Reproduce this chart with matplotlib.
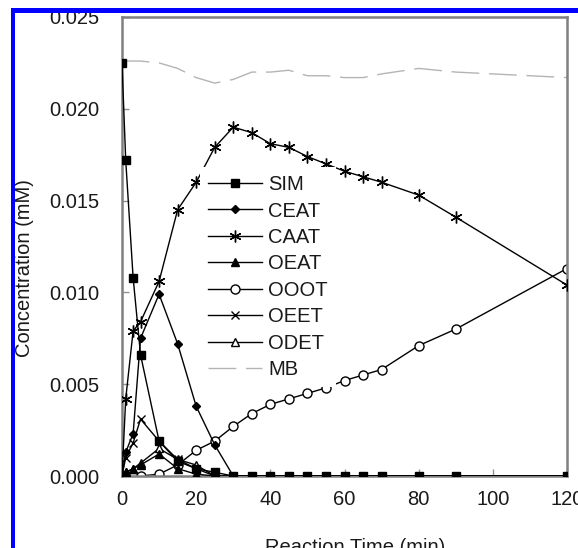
import matplotlib
matplotlib.use("Agg")
import matplotlib.pyplot as plt
from matplotlib.patches import Rectangle

plt.rcParams['font.family'] = ['Liberation Sans', 'DejaVu Sans']

time_min = [0, 1, 3, 5, 10, 15, 20, 25, 30, 35, 40, 45, 50, 55, 60, 65, 70, 80, 90, 120]

sim  = [0.0225, 0.0172, 0.0108, 0.0066, 0.0019, 0.0008, 0.0004, 0.0002, 0, 0, 0, 0, 0, 0, 0, 0, 0, 0, 0, 0]
ceat = [0, 0.0013, 0.0023, 0.0075, 0.0099, 0.0072, 0.0038, 0.0017, 0, 0, 0, 0, 0, 0, 0, 0, 0, 0, 0, 0]
caat = [0, 0.0042, 0.0079, 0.0084, 0.0106, 0.0145, 0.0160, 0.0179, 0.0190, 0.0187, 0.0181, 0.0179,
        0.0174, 0.0170, 0.0166, 0.0163, 0.0160, 0.0153, 0.0141, 0.0104]
oeat = [0, 0.0002, 0.0004, 0.0006, 0.0012, 0.0004, 0.0001, 0, 0, 0, 0, 0, 0, 0, 0, 0, 0, 0, 0, 0]
ooot = [0, 0, 0, 0, 0.0001, 0.0006, 0.0014, 0.0019, 0.0027, 0.0034, 0.0039, 0.0042,
        0.0045, 0.0048, 0.0052, 0.0055, 0.0058, 0.0071, 0.0080, 0.0113]
oeet = [0, 0.0010, 0.0018, 0.0031, 0.0019, 0.0009, 0.0004, 0, 0, 0, 0, 0, 0, 0, 0, 0, 0, 0, 0, 0]
odet = [0, 0.0002, 0.0004, 0.0007, 0.0015, 0.0009, 0.0006, 0, 0, 0, 0, 0, 0, 0, 0, 0, 0, 0, 0, 0]
mb   = [0.0225, 0.0226, 0.0226, 0.0226, 0.0225, 0.0222, 0.0217, 0.0214, 0.0216, 0.0220, 0.0220, 0.0221,
        0.0218, 0.0218, 0.0217, 0.0217, 0.0219, 0.0222, 0.0220, 0.0217]

x_ticks = [0, 20, 40, 60, 80, 100, 120]
y_ticks = [0.000, 0.005, 0.010, 0.015, 0.020, 0.025]

W, H = 578, 548
fig = plt.figure(figsize=(W / 100, H / 100), dpi=100)
ax = fig.add_axes([122 / W, 1 - 476 / H, (567 - 122) / W, (476 - 17) / H])

lw = 1.0
k = dict(color='black', lw=lw, mec='black')
ax.plot(time_min, mb, color='#b4b4b4', lw=1.0, dashes=(20, 7), label='MB', zorder=1)
ax.plot(time_min, ooot, marker='o', ms=6.5, mfc='white', label='OOOT', zorder=2, **k)
ax.plot(time_min, odet, marker='^', ms=5.5, mfc='white', label='ODET', zorder=2, **k)
ax.plot(time_min, oeet, marker='x', ms=6, mew=1.0, label='OEET', zorder=3, **k)
ax.plot(time_min, oeat, marker='^', ms=5.5, mfc='black', label='OEAT', zorder=3, **k)
ax.plot(time_min, caat, marker=(6, 2, 0), ms=8.5, mew=1.0, label='CAAT', zorder=3, **k)
ax.plot(time_min, ceat, marker='D', ms=4.5, mfc='black', label='CEAT', zorder=3, **k)
ax.plot(time_min, sim, marker='s', ms=5.5, mfc='black', label='SIM', zorder=4, **k)

ax.set_xlim(0, 120)
ax.set_ylim(0, 0.025)
ax.set_xticks(x_ticks)
ax.set_yticks(y_ticks)
ax.set_yticklabels([f"{v:.3f}" for v in y_ticks])
ax.tick_params(axis='both', direction='in', length=5, width=1, color='#909090',
               labelsize=14.5, labelcolor='#1a1a1a')
ax.tick_params(axis='y', pad=16)
ax.tick_params(axis='x', pad=10)
for s in ax.spines.values():
    s.set_color('#808080')
    s.set_linewidth(1.8)

ax.set_xlabel('Reaction Time (min)', fontsize=14.5, color='#1a1a1a')
ax.set_ylabel('Concentration (mM)', fontsize=14.5, color='#1a1a1a')
ax.xaxis.set_label_coords((355 - 122) / (567 - 122), -(553 - 476) / (476 - 17), transform=ax.transAxes)
ax.yaxis.set_label_coords(-(122 - 34) / (567 - 122), (476 - 268) / (476 - 17))
ax.xaxis.label.set_va('baseline')

handles, labels = ax.get_legend_handles_labels()
order = ['SIM', 'CEAT', 'CAAT', 'OEAT', 'OOOT', 'OEET', 'ODET', 'MB']
hmap = dict(zip(labels, handles))
leg = ax.legend([hmap[o] for o in order], order, loc='upper left',
                bbox_to_anchor=(200 / W, 1 - 167 / H), bbox_transform=fig.transFigure,
                frameon=True, fancybox=False, edgecolor='none', facecolor='white', framealpha=1,
                fontsize=14.5, handlelength=2.7, handletextpad=0.3, labelspacing=0.37,
                borderpad=0.4, borderaxespad=0)
for t in leg.get_texts():
    t.set_color('#1a1a1a')

# blue frame around the picture (visible on left and top)
fig.add_artist(Rectangle((11 / W, 0), 4 / W, (H - 8) / H, transform=fig.transFigure,
                         color='#0000ff', lw=0))
fig.add_artist(Rectangle((11 / W, 1 - 13 / H), (W - 11) / W, 5 / H, transform=fig.transFigure,
                         color='#0000ff', lw=0))

fig.savefig('out.png', dpi=100)
